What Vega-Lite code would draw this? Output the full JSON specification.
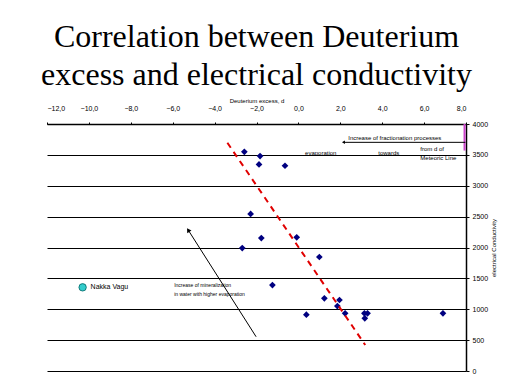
{
  "$schema": "https://vega.github.io/schema/vega-lite/v6.json",
  "width": 419,
  "height": 247,
  "autosize": "none",
  "padding": {"left": 47, "top": 124, "right": 53, "bottom": 18},
  "background": "white",
  "title": {
    "text": ["Correlation between Deuterium", "excess and electrical conductivity"],
    "font": "Liberation Serif",
    "fontSize": 32,
    "fontWeight": "normal",
    "lineHeight": 38,
    "anchor": "middle",
    "frame": "group",
    "offset": 5,
    "color": "black"
  },
  "config": {
    "view": {"stroke": null},
    "text": {"font": "Liberation Sans", "color": "black"},
    "axis": {"labelOverlap": false}
  },
  "datasets": {
    "pts": [
      {"d": -2.58, "ec": 3550},
      {"d": -1.83, "ec": 3480},
      {"d": -1.88, "ec": 3346},
      {"d": -0.64, "ec": 3324},
      {"d": -2.28, "ec": 2543},
      {"d": -1.77, "ec": 2153},
      {"d": -0.08, "ec": 2165},
      {"d": -2.68, "ec": 1991},
      {"d": 1.0, "ec": 1846},
      {"d": -1.24, "ec": 1392},
      {"d": 1.24, "ec": 1177},
      {"d": 1.96, "ec": 1150},
      {"d": 1.86, "ec": 1052},
      {"d": 0.38, "ec": 912},
      {"d": 2.23, "ec": 934},
      {"d": 3.15, "ec": 934},
      {"d": 3.3, "ec": 934},
      {"d": 3.17, "ec": 853},
      {"d": 6.9, "ec": 934}
    ],
    "trend": [
      {"d": -3.39, "ec": 3696},
      {"d": 3.19, "ec": 421}
    ],
    "notes": [
      {"d": 2.38, "ec": 3772, "label": "Increase of fractionation processes"},
      {"d": 0.32, "ec": 3534, "label": "evaporation"},
      {"d": 3.81, "ec": 3534, "label": "towards"},
      {"d": 5.82, "ec": 3589, "label": "from d of"},
      {"d": 5.82, "ec": 3444, "label": "Meteoric Line"}
    ],
    "smallnotes": [
      {"d": -5.93, "ec": 1392, "label": "Increase of mineralization"},
      {"d": -5.93, "ec": 1247, "label": "in water with higher evaporation"}
    ],
    "legend": [
      {"d": -10.3, "ec": 1355, "label": "Nakka Vagu"}
    ],
    "arrows": [
      {"d": -2.02, "ec": 555, "d2": -5.26, "ec2": 2283},
      {"d": 7.97, "ec": 3703, "d2": 2.15, "ec2": 3703}
    ],
    "headUp": [
      {"d": -5.26, "ec": 2283}
    ],
    "headLeft": [
      {"d": 2.15, "ec": 3703}
    ],
    "magenta": [
      {"d": 7.93, "ec": 3570, "ec2": 4000}
    ]
  },
  "encoding": {
    "x": {
      "field": "d", "type": "quantitative",
      "scale": {"domain": [-12, 8], "nice": false, "zero": false},
      "axis": {
        "orient": "top",
        "title": "Deuterium excess, d",
        "values": [-12, -10, -8, -6, -4, -2, 0, 2, 4, 6, 8],
        "labelExpr": "replace(format(datum.value, '.1f'), '.', ',')",
        "grid": false,
        "domainColor": "black",
        "domainWidth": 1.5,
        "tickColor": "black",
        "tickSize": 2,
        "labelPadding": 11,
        "labelFont": "Liberation Sans",
        "labelFontSize": 7,
        "labelColor": "black",
        "titleFont": "Liberation Sans",
        "titleFontSize": 6,
        "titleFontWeight": "normal",
        "titleColor": "black",
        "titlePadding": 1
      }
    },
    "y": {
      "field": "ec", "type": "quantitative",
      "scale": {"domain": [0, 4000], "nice": false, "zero": false},
      "axis": {
        "orient": "right",
        "title": "electrical Conductivity",
        "values": [0, 500, 1000, 1500, 2000, 2500, 3000, 3500, 4000],
        "grid": true,
        "gridColor": "black",
        "gridWidth": 1,
        "gridOpacity": 1,
        "domainColor": "black",
        "domainWidth": 1.5,
        "tickColor": "black",
        "tickSize": 3,
        "labelPadding": 3,
        "labelFont": "Liberation Sans",
        "labelFontSize": 7,
        "labelColor": "black",
        "labelExpr": "format(datum.value, 'd')",
        "titleFont": "Liberation Sans",
        "titleFontSize": 6,
        "titleFontWeight": "normal",
        "titleColor": "black",
        "titleAngle": 270,
        "titleBaseline": "top",
        "titlePadding": 3
      }
    }
  },
  "layer": [
    {
      "data": {"name": "pts"},
      "mark": {"type": "point", "shape": "diamond", "filled": true, "color": "#000080", "size": 45, "opacity": 1}
    },
    {
      "data": {"name": "trend"},
      "mark": {"type": "line", "color": "#e00000", "strokeWidth": 2, "strokeDash": [6, 5]}
    },
    {
      "data": {"name": "magenta"},
      "mark": {"type": "rule", "color": "#cc44cc", "strokeWidth": 2},
      "encoding": {
        "y2": {"field": "ec2"}
      }
    },
    {
      "data": {"name": "arrows"},
      "mark": {"type": "rule", "color": "black", "strokeWidth": 1},
      "encoding": {
        "x2": {"field": "d2"},
        "y2": {"field": "ec2"}
      }
    },
    {
      "data": {"name": "headUp"},
      "mark": {"type": "point", "shape": "triangle-up", "filled": true, "color": "black", "size": 25, "angle": 327.6, "opacity": 1}
    },
    {
      "data": {"name": "headLeft"},
      "mark": {"type": "point", "shape": "triangle-left", "filled": true, "color": "black", "size": 12, "opacity": 1}
    },
    {
      "data": {"name": "legend"},
      "mark": {"type": "point", "shape": "circle", "filled": true, "color": "#33cccc", "stroke": "#006666", "strokeWidth": 0.8, "size": 55, "opacity": 1}
    },
    {
      "data": {"name": "legend"},
      "mark": {"type": "text", "align": "left", "baseline": "middle", "dx": 8, "fontSize": 7},
      "encoding": {"text": {"field": "label"}}
    },
    {
      "data": {"name": "notes"},
      "mark": {"type": "text", "align": "left", "baseline": "middle", "fontSize": 6},
      "encoding": {"text": {"field": "label"}}
    },
    {
      "data": {"name": "smallnotes"},
      "mark": {"type": "text", "align": "left", "baseline": "middle", "fontSize": 5},
      "encoding": {"text": {"field": "label"}}
    }
  ]
}
